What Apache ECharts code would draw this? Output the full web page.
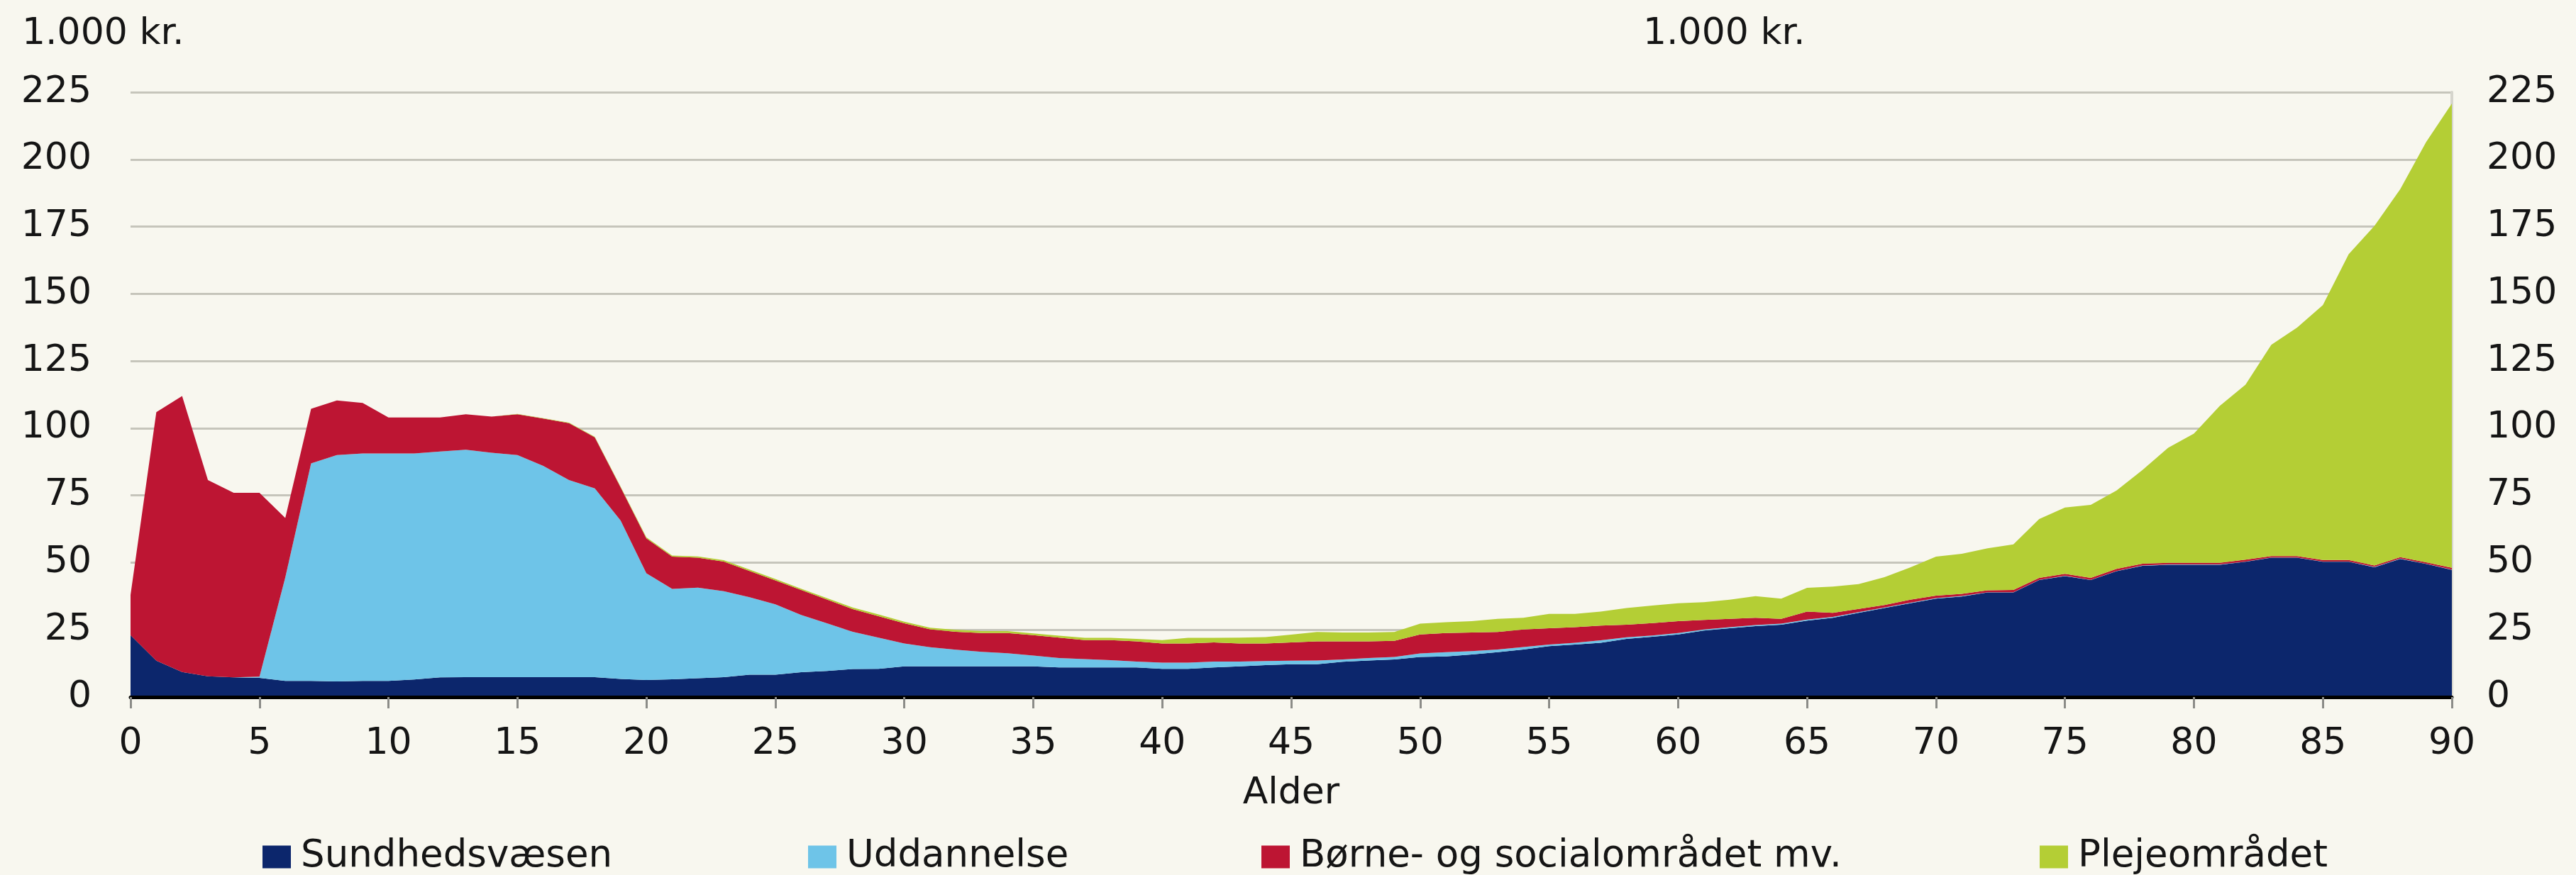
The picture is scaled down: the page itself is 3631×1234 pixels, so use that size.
<!DOCTYPE html>
<html>
<head>
<meta charset="utf-8">
<title>Udgifter efter alder</title>
<script src="https://cdn.jsdelivr.net/npm/echarts@6/dist/echarts.min.js"></script>
<style>
  html, body { margin: 0; padding: 0; background: #f8f7ef; }
  #main { width: 3631px; height: 1234px; }
</style>
</head>
<body>
<div id="main"></div>
<script type="text/javascript">
// alder 0..90
var ages = [];
for (var a = 0; a <= 90; a++) ages.push(String(a));

// 1.000 kr. pr. person
var sundhed = [23, 13.5, 9.3, 7.7, 7.3, 7.1, 6, 6, 5.8, 6,
  6, 6.5, 7.3, 7.4, 7.4, 7.4, 7.4, 7.4, 7.4, 6.7,
  6.3, 6.6, 7, 7.4, 8.3, 8.3, 9.2, 9.7, 10.4, 10.5,
  11.4, 11.4, 11.4, 11.4, 11.4, 11.4, 11, 11, 11, 11,
  10.5, 10.5, 11, 11.4, 11.9, 12.2, 12.2, 13.1, 13.6, 14,
  14.9, 15.1, 15.8, 16.7, 17.7, 18.9, 19.5, 20.2, 21.6, 22.4,
  23.3, 24.7, 25.6, 26.4, 26.9, 28.4, 29.5, 31.3, 33.1, 34.9,
  36.6, 37.4, 38.9, 38.9, 43.5, 45, 43.5, 46.8, 48.8, 49.2,
  49.2, 49.2, 50.3, 51.8, 51.8, 50.3, 50.3, 48.3, 51.4, 49.5,
  47.3];

var uddannelse = [0, 0, 0, 0, 0, 0.5, 38.5, 80.9, 84.2, 84.6,
  84.6, 84.1, 84, 84.6, 83.5, 82.6, 78.6, 73.3, 70.2, 59,
  39.7, 33.6, 33.7, 32, 28.8, 26.2, 21.3, 17.7, 13.9, 11.6,
  8.5, 7.1, 6.2, 5.4, 4.9, 4, 3.5, 3.1, 2.7, 2.2,
  2.3, 2.3, 2.2, 1.8, 1.5, 1.3, 1.4, 0.9, 0.9, 0.9,
  1.3, 1.6, 1.3, 1, 0.9, 0.6, 0.7, 0.9, 0.6, 0.5,
  0.5, 0.4, 0.4, 0.4, 0.4, 0.4, 0.3, 0.3, 0.2, 0.2,
  0.2, 0.2, 0.1, 0.1, 0.1, 0.1, 0.1, 0.1, 0.1, 0.1,
  0.1, 0.1, 0.1, 0.1, 0.1, 0.1, 0.1, 0.1, 0.1, 0.1,
  0.1];

var boerneSocial = [15, 92.5, 102.7, 73, 68.7, 68.4, 22.1, 20.3, 20.3, 18.8,
  13.4, 13.4, 12.7, 13.2, 13.4, 15.2, 17.6, 21.2, 19, 12.3,
  13, 12, 11.1, 11, 9.8, 8.9, 9.3, 8.9, 8.4, 8,
  7.5, 6.7, 6.7, 7, 7.5, 7.6, 7.6, 7.1, 7.5, 7.5,
  7.1, 7.1, 7.1, 6.7, 6.5, 6.8, 7.1, 6.7, 6.2, 6,
  7.1, 7.1, 6.9, 6.5, 6.5, 6.1, 5.8, 5.5, 4.7, 4.6,
  4.4, 3.6, 3.1, 2.7, 1.8, 3, 1.5, 1.2, 0.9, 1.1,
  0.9, 0.8, 0.7, 0.8, 0.7, 0.7, 0.7, 0.8, 0.7, 0.6,
  0.6, 0.6, 0.7, 0.5, 0.5, 0.6, 0.6, 0.5, 0.5, 0.5,
  0.7];

var pleje = [0, 0, 0, 0, 0, 0, 0, 0, 0, 0,
  0, 0, 0, 0, 0, 0.1, 0.1, 0.2, 0.2, 0.3,
  0.4, 0.4, 0.5, 0.5, 0.5, 0.5, 0.5, 0.5, 0.6, 0.6,
  0.6, 0.6, 0.7, 0.7, 0.7, 0.7, 0.7, 0.8, 0.8, 0.9,
  1.3, 2.1, 1.7, 2.2, 2.4, 2.9, 3.5, 3.3, 3.3, 3.3,
  4, 4, 4.2, 4.9, 4.4, 5.3, 4.9, 5.2, 6.2, 6.5,
  6.7, 6.6, 7.1, 8, 7.5, 8.8, 9.8, 9.2, 10.4, 12,
  14.5, 14.9, 15.6, 17, 21.9, 24.7, 27.2, 29.1, 34.8, 42.8,
  48.1, 58.4, 65.1, 78.6, 85, 94.8, 113.7, 126.4, 136.9, 156.3,
  172.7];

var seriesNames = ['Sundhedsvæsen', 'Uddannelse', 'Børne- og socialområdet mv.', 'Plejeområdet'];
var seriesColors = ['#0c266c', '#6ec4e8', '#bd1533', '#b4ce35'];
var seriesData = [sundhed, uddannelse, boerneSocial, pleje];
var legendLeft = [370, 1139, 1778, 2875];

var font = 'DejaVu Sans';
var textColor = '#151515';

var myChart = echarts.init(document.getElementById('main'));

var series = seriesNames.map(function (name, i) {
  return {
    name: name,
    type: 'line',
    stack: 'total',
    data: seriesData[i],
    showSymbol: false,
    symbol: 'none',
    lineStyle: { width: 0 },
    areaStyle: { color: seriesColors[i], opacity: 1 },
    itemStyle: { color: seriesColors[i] },
    emphasis: { disabled: true },
    animation: false
  };
});

var legends = seriesNames.map(function (name, i) {
  return {
    data: [name],
    left: legendLeft[i],
    top: 1182,
    padding: 0,
    itemWidth: 40,
    itemHeight: 32,
    icon: 'rect',
    selectedMode: false,
    textStyle: {
      fontFamily: font,
      fontSize: 53,
      color: textColor,
      padding: [0, 0, 0, 9]
    }
  };
});

var yAxisBase = {
  type: 'value',
  min: 0,
  max: 225,
  interval: 25,
  axisTick: { show: false },
  axisLabel: { fontFamily: font, fontSize: 52, color: textColor }
};

var option = {
  backgroundColor: '#f8f7ef',
  animation: false,
  title: [
    { text: '1.000 kr.', left: 31, top: 22, padding: 0,
      textStyle: { fontFamily: font, fontSize: 52, fontWeight: 'normal', color: textColor } },
    { text: '1.000 kr.', left: 2316, top: 22, padding: 0,
      textStyle: { fontFamily: font, fontSize: 52, fontWeight: 'normal', color: textColor } }
  ],
  legend: legends,
  grid: { left: 184, right: 175, top: 130, bottom: 251, containLabel: false },
  xAxis: {
    type: 'category',
    data: ages,
    boundaryGap: false,
    z: 10,
    name: 'Alder',
    nameLocation: 'middle',
    nameGap: 110,
    nameTextStyle: { fontFamily: font, fontSize: 52, color: textColor },
    axisLine: { lineStyle: { color: '#000000', width: 5 } },
    axisTick: { interval: 4, length: 16, lineStyle: { color: '#8c8c88', width: 3 } },
    axisLabel: { interval: 4, margin: 40, fontFamily: font, fontSize: 52, color: textColor },
    splitLine: { show: false }
  },
  yAxis: [
    Object.assign({}, yAxisBase, {
      position: 'left',
      axisLine: { show: false },
      axisLabel: Object.assign({}, yAxisBase.axisLabel, { margin: 55 }),
      splitLine: { show: true, lineStyle: { color: '#c6c5bb', width: 3 } }
    }),
    Object.assign({}, yAxisBase, {
      position: 'right',
      axisLine: { show: true, lineStyle: { color: '#d6d5cd', width: 4 } },
      axisLabel: Object.assign({}, yAxisBase.axisLabel, { margin: 49 }),
      splitLine: { show: false }
    })
  ],
  series: series
};

myChart.setOption(option);
</script>
</body>
</html>
